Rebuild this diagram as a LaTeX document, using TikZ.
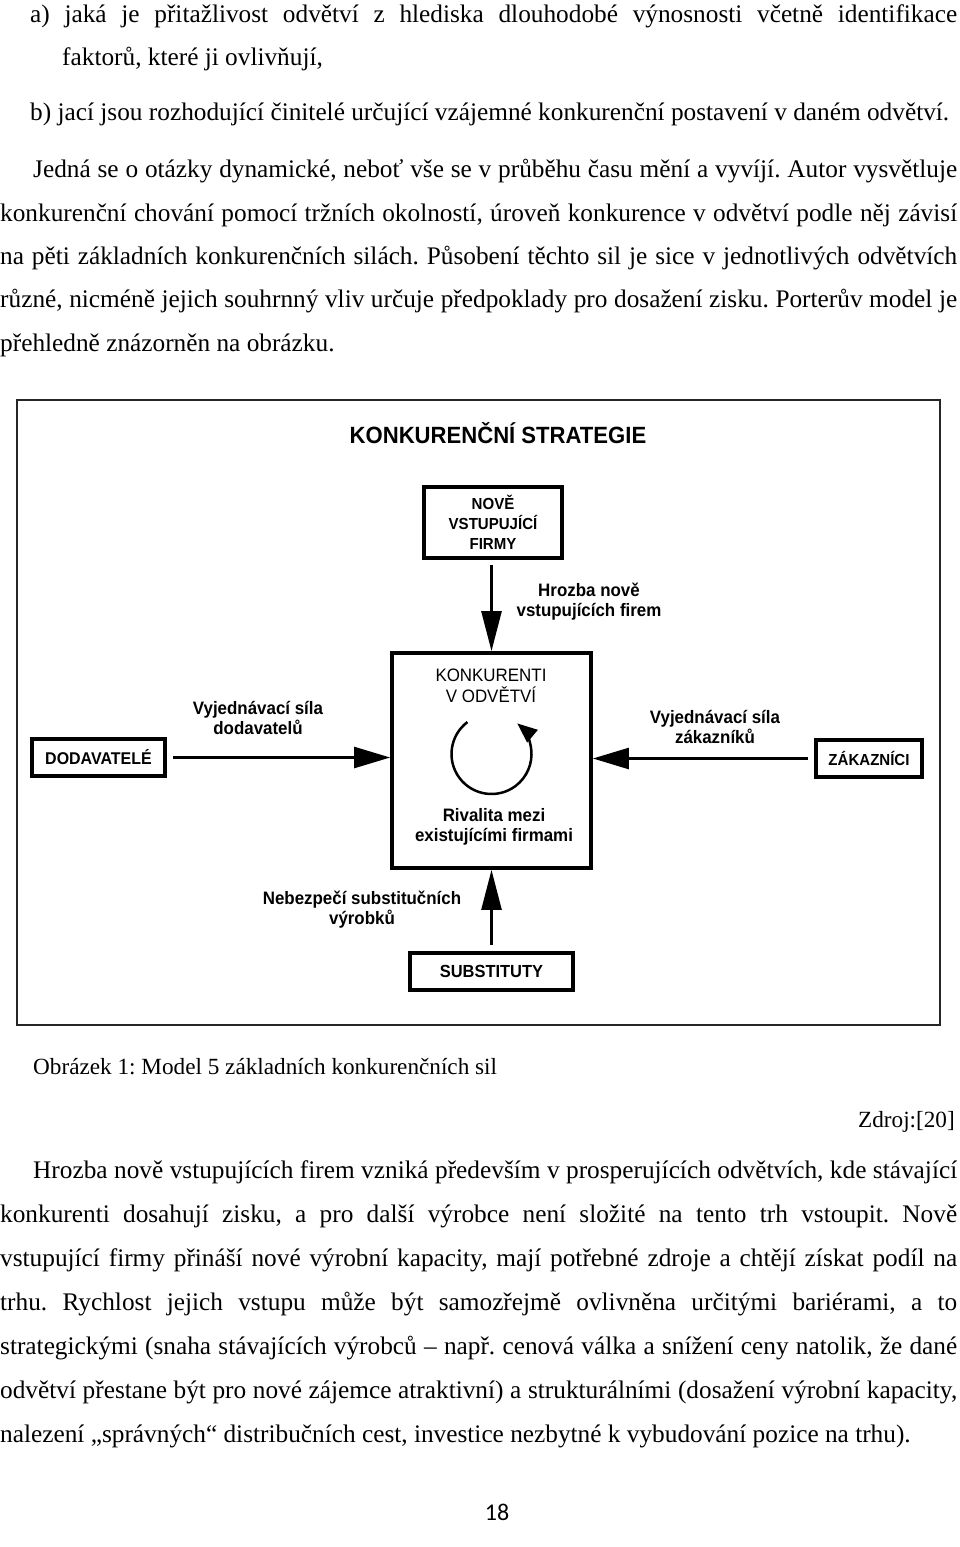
\documentclass[tikz,border=0pt]{standalone}
\usepackage{fontspec}
\setmainfont{Liberation Serif}
\newfontfamily\tnr{Liberation Serif}
\newfontfamily\arl{Liberation Sans}[FakeStretch=0.94]
\newfontfamily\calb{Carlito}
\usetikzlibrary{arrows.meta}
\frenchspacing
\tikzset{
  frame/.style={draw=black!85, line width=2.5pt, inner sep=0pt},
  box/.style={draw, line width=3.8pt, inner sep=0pt, align=center, font=\arl\bfseries\fontsize{17}{20}\selectfont},
  lbl/.style={inner sep=0pt, align=center, font=\arl\bfseries\fontsize{18}{20}\selectfont},
  arr/.style={line width=2.6pt, -{Triangle[length=40pt,width=20pt]}},
  harr/.style={line width=2.6pt, -{Triangle[length=36pt,width=21pt]}},
  body/.style={anchor=base west, inner sep=0pt, font=\tnr\fontsize{25.3}{30}\selectfont},
  capt/.style={inner sep=0pt, font=\tnr\fontsize{23.2}{28}\selectfont},
}
\begin{document}
\begin{tikzpicture}[x=1pt,y=-1pt]
\useasboundingbox[fill=white] (0,0) rectangle (960,1547);
% top text
\node[body] (t1) at (30,23) {\makebox[927pt][s]{a) jaká je přitažlivost odvětví z~hlediska dlouhodobé výnosnosti včetně identifikace}};
\node[body] (t2) at (62,65) {faktorů, které ji ovlivňují,};
\node[body] (t3) at (30,120) {b) jací jsou rozhodující činitelé určující vzájemné konkurenční postavení v daném odvětví.};
\node[body] (t4) at (33,177) {\makebox[924pt][s]{Jedná se o otázky dynamické, neboť vše se v průběhu času mění a vyvíjí. Autor vysvětluje}};
\node[body] (t5) at (0,221) {\makebox[957pt][s]{konkurenční chování pomocí tržních okolností, úroveň konkurence v odvětví podle něj závisí}};
\node[body] (t6) at (0,264) {\makebox[957pt][s]{na pěti základních konkurenčních silách. Působení těchto sil je sice v jednotlivých odvětvích}};
\node[body] (t7) at (0,307) {\makebox[957pt][s]{různé, nicméně jejich souhrnný vliv určuje předpoklady pro dosažení zisku. Porterův model je}};
\node[body] (t8) at (0,351) {přehledně znázorněn na obrázku.};
% diagram
\node[frame, minimum width=923pt, minimum height=625pt] (fig) at (478.5,712.5) {};
\node[font=\arl\bfseries\fontsize{23.5}{26}\selectfont, inner sep=0pt] (title) at (498,433) {KONKURENČNÍ STRATEGIE};
\node[box, minimum width=138pt, minimum height=71pt, font=\arl\bfseries\fontsize{16}{20}\selectfont] (nove) at (493,522.5) {NOVĚ\\VSTUPUJÍCÍ\\FIRMY};
\node[box, minimum width=199pt, minimum height=215pt] (konk) at (491.5,760.5) {};
\node[lbl, font=\arl\fontsize{18}{21}\selectfont] (konkt) at (491,686) {KONKURENTI\\V ODVĚTVÍ};
\node[lbl] (rival) at (494,827) {Rivalita mezi\\existujícími firmami};
\coordinate (rc) at (491.5,754);
\draw[line width=2.5pt, -{Triangle[length=20pt,width=16pt]}] (rc) ++(-127:40) arc[start angle=-127, end angle=-410, radius=40];
\node[box, minimum width=133pt, minimum height=37pt] (dod) at (98.5,757.5) {DODAVATELÉ};
\node[box, minimum width=106pt, minimum height=37pt, font=\arl\bfseries\fontsize{16}{20}\selectfont] (zak) at (869,758.5) {ZÁKAZNÍCI};
\node[box, minimum width=163pt, minimum height=37pt, font=\arl\bfseries\fontsize{17.5}{20}\selectfont] (sub) at (491.5,971.5) {SUBSTITUTY};
\node[lbl] (l1) at (589,602) {Hrozba nově\\vstupujících firem};
\node[lbl] (l2) at (258,718) {Vyjednávací síla\\dodavatelů};
\node[lbl] (l3) at (715,727) {Vyjednávací síla\\zákazníků};
\node[lbl] (l4) at (362,910) {Nebezpečí substitučních\\výrobků};
\draw[arr, shorten <=5pt] (nove.south -| konk.north) -- (konk.north);
\draw[arr, shorten <=6pt] (sub.north) -- (konk.south);
\draw[harr, shorten <=6pt] (dod.east) -- (dod.east -| konk.west);
\draw[harr, shorten <=6pt] (zak.west) -- (zak.west -| konk.east);
% caption
\node[capt, anchor=base west] (cap) at (33,1074) {Obrázek 1: Model 5 základních konkurenčních sil};
\node[capt, anchor=base east] (src) at (955,1127) {Zdroj:[20]};
% bottom text
\node[body] (b1) at (33,1178) {\makebox[924pt][s]{Hrozba nově vstupujících firem vzniká především v prosperujících odvětvích, kde stávající}};
\node[body] (b2) at (0,1222) {\makebox[957pt][s]{konkurenti dosahují zisku, a pro další výrobce není složité na tento trh vstoupit. Nově}};
\node[body] (b3) at (0,1266) {\makebox[957pt][s]{vstupující firmy přináší nové výrobní kapacity, mají potřebné zdroje a chtějí získat podíl na}};
\node[body] (b4) at (0,1310) {\makebox[957pt][s]{trhu. Rychlost jejich vstupu může být samozřejmě ovlivněna určitými bariérami, a to}};
\node[body] (b5) at (0,1354) {\makebox[957pt][s]{strategickými (snaha stávajících výrobců – např. cenová válka a snížení ceny natolik, že dané}};
\node[body] (b6) at (0,1398) {\makebox[957pt][s]{odvětví přestane být pro nové zájemce atraktivní) a strukturálními (dosažení výrobní kapacity,}};
\node[body] (b7) at (0,1442) {nalezení „správných“ distribučních cest, investice nezbytné k vybudování pozice na trhu).};
\node[font=\calb\fontsize{24}{26}\selectfont, inner sep=0pt] (pg) at (497,1512) {18};
\end{tikzpicture}
\end{document}
